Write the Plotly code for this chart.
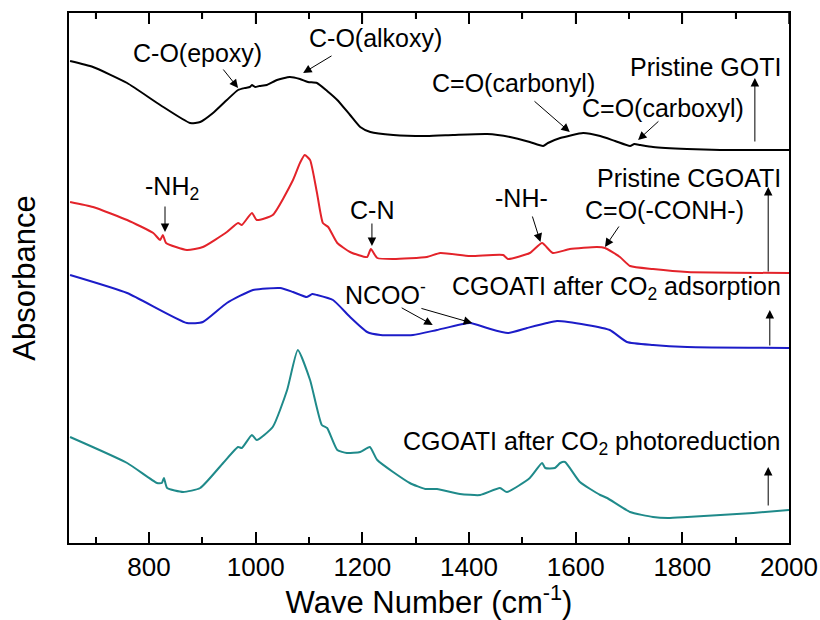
import plotly.graph_objects as go

# ---- data (wavenumber cm^-1, absorbance a.u. with vertical offsets) ----
goti_wn = [652, 695, 759, 821, 877, 896, 920, 946, 967, 980, 989, 993, 999, 1007, 1021, 1040, 1064, 1083,
           1098, 1115, 1134, 1153, 1177, 1196, 1215, 1258, 1321, 1370, 1434, 1477, 1514, 1539, 1548,
           1571, 1614, 1646, 1674, 1702, 1710, 1721, 1745, 1809, 1871, 1933, 2000]
goti_ab = [4.82, 4.76, 4.60, 4.38, 4.20, 4.21, 4.30, 4.43, 4.53, 4.55, 4.56, 4.58, 4.56, 4.57, 4.58, 4.63, 4.66, 4.64,
           4.61, 4.60, 4.52, 4.43, 4.28, 4.16, 4.11, 4.08, 4.07, 4.08, 4.09, 4.06, 4.01, 3.97, 4.00,
           4.05, 4.10, 4.07, 4.02, 3.97, 3.99, 3.98, 3.96, 3.94, 3.93, 3.93, 3.93]

cgoati_wn = [652, 695, 759, 808, 821, 826, 832, 871, 901, 946, 967, 974, 993, 1002, 1032, 1070, 1083, 1092,
             1102, 1115, 1126, 1136, 1153, 1177, 1209, 1216, 1228, 1258, 1321, 1346, 1402, 1464, 1473,
             1514, 1537, 1557, 1589, 1640, 1655, 1683, 1702, 1745, 1809, 2000]
cgoati_ab = [3.41, 3.36, 3.23, 3.10, 3.03, 3.08, 3.00, 2.93, 2.96, 3.11, 3.20, 3.18, 3.30, 3.23, 3.28, 3.63, 3.80, 3.88,
             3.83, 3.50, 3.20, 3.16, 3.00, 2.91, 2.86, 2.94, 2.85, 2.84, 2.86, 2.90, 2.87, 2.88, 2.84,
             2.90, 3.00, 2.90, 2.94, 2.96, 2.95, 2.86, 2.77, 2.74, 2.71, 2.70]

ads_wn = [652, 759, 871, 901, 946, 995, 1046, 1070, 1096, 1106, 1115, 1145, 1177, 1209, 1234, 1295, 1340,
          1402, 1434, 1473, 1509, 1546, 1565, 1621, 1664, 1696, 1745, 1809, 2000]
ads_ab = [2.68, 2.50, 2.20, 2.21, 2.40, 2.53, 2.55, 2.51, 2.46, 2.49, 2.48, 2.43, 2.26, 2.11, 2.08, 2.08, 2.13,
          2.20, 2.15, 2.10, 2.15, 2.20, 2.22, 2.18, 2.13, 2.01, 1.98, 1.96, 1.95]

photo_wn = [652, 759, 815, 824, 828, 834, 864, 896, 939, 967, 974, 993, 1002, 1032, 1059, 1079, 1102, 1124,
            1134, 1153, 1171, 1196, 1214, 1228, 1289, 1318, 1340, 1383, 1421, 1458, 1471, 1514, 1537,
            1543, 1561, 1571, 1580, 1608, 1646, 1659, 1702, 1745, 1773, 1809, 1933, 2000]
photo_ab = [1.06, 0.80, 0.60, 0.60, 0.65, 0.55, 0.51, 0.55, 0.80, 0.96, 0.95, 1.08, 1.03, 1.16, 1.53, 1.93, 1.63, 1.18,
            1.15, 0.93, 0.90, 0.91, 0.96, 0.83, 0.60, 0.54, 0.54, 0.49, 0.48, 0.55, 0.51, 0.65, 0.80,
            0.75, 0.75, 0.80, 0.81, 0.61, 0.48, 0.45, 0.31, 0.26, 0.25, 0.26, 0.30, 0.33]

series_names = ["Pristine GOTI", "Pristine CGOATI", "CGOATI after CO<sub>2</sub> adsorption",
                "CGOATI after CO<sub>2</sub> photoreduction"]
series_colors = ["#000000", "#e3232a", "#1c1cc8", "#1f8a8a"]

x_ticks = [800, 1000, 1200, 1400, 1600, 1800, 2000]
x_minor_ticks = [700, 900, 1100, 1300, 1500, 1700, 1900]

FONT = "Liberation Sans, Arial, sans-serif"
PLOT_H = 620 - 13 - 77  # plot-area height in px, used to size the mirrored top ticks

fig = go.Figure()
for wn, ab, name, col in zip([goti_wn, cgoati_wn, ads_wn, photo_wn],
                             [goti_ab, cgoati_ab, ads_ab, photo_ab],
                             series_names, series_colors):
    fig.add_trace(go.Scatter(x=wn, y=ab, mode="lines", name=name,
                             line=dict(color=col, width=2, shape="spline", smoothing=0.5),
                             showlegend=False))

annotations = []

def arrow(x0, y0, x1, y1):
    annotations.append(dict(x=x1, y=y1, ax=x0, ay=y0, xref="x", yref="y", axref="x", ayref="y",
                            text="", showarrow=True, arrowhead=2, arrowsize=1.7, arrowwidth=1,
                            arrowcolor="#000000", standoff=0, startstandoff=0))

def label(x, y, txt, anchor="center"):
    annotations.append(dict(x=x, y=y, xref="x", yref="y", text=txt, showarrow=False,
                            xanchor=anchor, yanchor="middle",
                            font=dict(family=FONT, size=25, color="#000000")))

# peak labels and arrows
label(890, 4.90, "C-O(epoxy)")
arrow(937, 4.75, 967, 4.55)
label(1224, 5.05, "C-O(alkoxy)")
arrow(1145, 4.88, 1089, 4.70)
label(1484, 4.60, "C=O(carbonyl)")
arrow(1520, 4.43, 1589, 4.11)
label(1764, 4.35, "C=O(carboxyl)")
arrow(1758, 4.23, 1717, 4.03)
label(1989, 4.76, series_names[0], "right")
arrow(1936, 4.00, 1936, 4.65)

label(843, 3.55, "-NH<sub>2</sub>")
arrow(830, 3.38, 830, 3.11)
label(1218, 3.33, "C-N")
arrow(1218, 3.21, 1218, 2.97)
label(1499, 3.45, "-NH-")
arrow(1518, 3.28, 1534, 3.01)
label(1767, 3.33, "C=O(-CONH-)")
arrow(1683, 3.18, 1655, 2.96)
label(1989, 3.65, series_names[1], "right")
arrow(1961, 2.70, 1961, 3.56)

label(1243, 2.50, "NCOO<sup>-</sup>")
arrow(1271, 2.36, 1332, 2.18)
arrow(1308, 2.35, 1406, 2.20)
label(1989, 2.55, series_names[2], "right")
arrow(1964, 1.96, 1964, 2.33)

label(1989, 1.00, series_names[3], "right")
arrow(1961, 0.36, 1961, 0.76)

# mirrored tick marks along the top frame (same tick values as the bottom axis)
shapes = []
for vals, length in ((x_ticks, 11), (x_minor_ticks, 6)):
    for v in vals:
        shapes.append(dict(type="line", xref="x", yref="paper", x0=v, x1=v,
                           y0=1, y1=1 - length / PLOT_H, line=dict(color="#000000", width=1.5)))

fig.update_layout(
    width=820, height=620,
    margin=dict(l=69, r=31, t=13, b=77, autoexpand=False),
    paper_bgcolor="white", plot_bgcolor="white",
    font=dict(family=FONT, color="#000000"),
    annotations=annotations,
    shapes=shapes,
    xaxis=dict(range=[650, 2000], tickvals=x_ticks, ticktext=[str(v) for v in x_ticks],
               ticks="inside", ticklen=11, tickwidth=1.5, tickcolor="#000000",
               minor=dict(ticks="inside", ticklen=6, tickvals=x_minor_ticks, tickwidth=1.5,
                          tickcolor="#000000", showgrid=False),
               showline=True, linecolor="#000000", linewidth=2, mirror="allticks",
               showgrid=False, zeroline=False, automargin=False,
               tickfont=dict(family=FONT, size=26),
               title=dict(text="Wave Number (cm<sup>-1</sup>)", font=dict(family=FONT, size=31), standoff=6)),
    yaxis=dict(range=[0, 5.30], showticklabels=False, ticks="",
               showline=True, linecolor="#000000", linewidth=2, mirror=True,
               showgrid=False, zeroline=False, automargin=False,
               title=dict(text="Absorbance", font=dict(family=FONT, size=31), standoff=22)),
)

fig.write_html("out.html")
